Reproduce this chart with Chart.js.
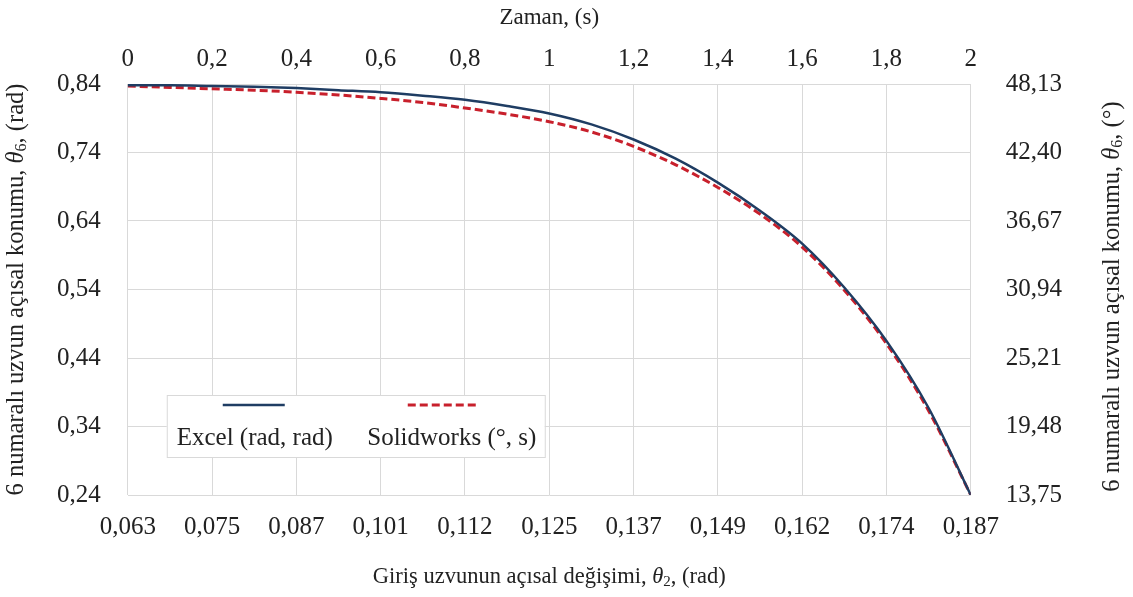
<!DOCTYPE html>
<html>
<head>
<meta charset="utf-8">
<script src="https://cdn.jsdelivr.net/npm/chart.js@4.4.1/dist/chart.umd.min.js"></script>
<style>
  html, body { margin: 0; padding: 0; background: #ffffff; }
  #wrap { width: 1133px; height: 597px; }
</style>
</head>
<body>
<div id="wrap"><canvas id="c" width="1133" height="597"></canvas></div>
<script>
// ---- data ----
const timeValues = [0, 0.1, 0.2, 0.3, 0.4, 0.5, 0.6, 0.7, 0.8, 0.9, 1.0,
                    1.1, 1.2, 1.3, 1.4, 1.5, 1.6, 1.7, 1.8, 1.9, 2.0];
const excelValues = [0.838, 0.838, 0.837, 0.836, 0.834, 0.831, 0.828, 0.823, 0.817, 0.808, 0.797,
                     0.781, 0.759, 0.731, 0.696, 0.655, 0.607, 0.543, 0.465, 0.367, 0.240];
const solidworksValues = [0.837, 0.835, 0.833, 0.831, 0.828, 0.824, 0.819, 0.813, 0.805, 0.796, 0.785,
                          0.770, 0.749, 0.722, 0.689, 0.650, 0.602, 0.539, 0.461, 0.363, 0.240];
const timeTicks = [0, 0.2, 0.4, 0.6, 0.8, 1.0, 1.2, 1.4, 1.6, 1.8, 2.0];
const topLabels = ['0', '0,2', '0,4', '0,6', '0,8', '1', '1,2', '1,4', '1,6', '1,8', '2'];
const bottomLabels = ['0,063', '0,075', '0,087', '0,101', '0,112', '0,125', '0,137', '0,149', '0,162', '0,174', '0,187'];
const radTicks = [0.24, 0.34, 0.44, 0.54, 0.64, 0.74, 0.84];
const radLabels = ['0,24', '0,34', '0,44', '0,54', '0,64', '0,74', '0,84'];
const degTicks = [13.75, 19.48, 25.21, 30.94, 36.67, 42.40, 48.13];
const degLabels = ['13,75', '19,48', '25,21', '30,94', '36,67', '42,40', '48,13'];
const seriesNames = ['Excel (rad, rad)', 'Solidworks (°, s)'];

// ---- style ----
const FONT = '"Liberation Serif", "Times New Roman", serif';
const TXT = '#222222';
const GRID = '#d9d9d9';
const BLUE = '#1f3d63';
const RED = '#c8202c';
const TICK_SIZE = 25;

function fixedTicks(values) {
  return function (scale) { scale.ticks = values.map(v => ({ value: v })); };
}

function drawRich(ctx, parts, cx, cy, rot) {
  ctx.save();
  ctx.translate(cx, cy);
  ctx.rotate(rot);
  ctx.textBaseline = 'middle';
  ctx.textAlign = 'left';
  ctx.fillStyle = TXT;
  let total = 0;
  const widths = parts.map(p => { ctx.font = p.f; const w = ctx.measureText(p.t).width; total += w; return w; });
  let x = -total / 2;
  parts.forEach((p, i) => { ctx.font = p.f; ctx.fillText(p.t, x, p.dy || 0); x += widths[i]; });
  ctx.restore();
}

const titlePlugin = {
  id: 'titles',
  afterDraw(chart) {
    const ctx = chart.ctx;
    const a = chart.chartArea;
    const cx = (a.left + a.right) / 2;
    const cy = (a.top + a.bottom) / 2;
    const n = '23px ' + FONT, sub = '15px ' + FONT;
    const vn = '24.5px ' + FONT, vit = 'italic 24.5px ' + FONT, vsub = '16px ' + FONT;
    drawRich(ctx, [{ t: 'Zaman, (s)', f: n }], cx, 18, 0);
    drawRich(ctx, [{ t: 'Giriş uzvunun açısal değişimi, ', f: '22.5px ' + FONT }, { t: 'θ', f: 'italic 22.5px ' + FONT }, { t: '2', f: sub, dy: 5 }, { t: ', (rad)', f: '22.5px ' + FONT }], cx, 577, 0);
    drawRich(ctx, [{ t: '6 numaralı uzvun açısal konumu, ', f: vn }, { t: 'θ', f: vit }, { t: '6', f: vsub, dy: 5 }, { t: ', (rad)', f: vn }], 17, cy, -Math.PI / 2);
    drawRich(ctx, [{ t: '6 numaralı uzvun açısal konumu, ', f: vn }, { t: 'θ', f: vit }, { t: '6', f: vsub, dy: 5 }, { t: ', (°)', f: vn }], 1113, cy + 7, -Math.PI / 2);
  }
};

const legendPlugin = {
  id: 'boxLegend',
  afterDatasetsDraw(chart) {
    const ctx = chart.ctx;
    const a = chart.chartArea;
    const bx = a.left + 39, by = 395, bw = 378, bh = 62;
    ctx.save();
    ctx.fillStyle = '#ffffff';
    ctx.fillRect(bx, by, bw, bh);
    ctx.strokeStyle = GRID;
    ctx.lineWidth = 1;
    ctx.strokeRect(bx + 0.5, by + 0.5, bw, bh);
    const centers = [bx + 88, bx + 285];
    const lineCenters = [bx + 87, bx + 276];
    chart.data.datasets.forEach((ds, i) => {
      ctx.beginPath();
      ctx.strokeStyle = ds.borderColor;
      ctx.lineWidth = ds.borderWidth;
      ctx.setLineDash(ds.borderDash || []);
      const half = i === 0 ? 31 : 35;
      ctx.moveTo(lineCenters[i] - half, by + 10);
      ctx.lineTo(lineCenters[i] + half, by + 10);
      ctx.stroke();
      ctx.setLineDash([]);
      ctx.fillStyle = TXT;
      ctx.font = '25px ' + FONT;
      ctx.textAlign = 'center';
      ctx.textBaseline = 'middle';
      ctx.fillText(ds.label, centers[i], by + 43);
    });
    ctx.restore();
  }
};

new Chart(document.getElementById('c'), {
  type: 'line',
  data: {
    datasets: [
      {
        label: seriesNames[0],
        data: timeValues.map((t, i) => ({ x: t, y: excelValues[i] })),
        borderColor: BLUE, borderWidth: 2.5, pointRadius: 0,
        cubicInterpolationMode: 'monotone', xAxisID: 'x', yAxisID: 'y'
      },
      {
        label: seriesNames[1],
        data: timeValues.map((t, i) => ({ x: t, y: solidworksValues[i] })),
        borderColor: RED, borderWidth: 3, borderDash: [8, 4], pointRadius: 0,
        cubicInterpolationMode: 'monotone', xAxisID: 'x', yAxisID: 'y'
      }
    ]
  },
  options: {
    responsive: false,
    animation: false,
    layout: { padding: { left: 30, right: 36, top: 34, bottom: 38 } },
    plugins: { legend: { display: false }, tooltip: { enabled: false } },
    scales: {
      x: {
        type: 'linear', position: 'bottom', min: 0, max: 2,
        afterBuildTicks: fixedTicks(timeTicks),
        grid: { color: GRID, lineWidth: 1, drawTicks: false },
        border: { display: false },
        ticks: { color: TXT, font: { family: FONT, size: TICK_SIZE }, padding: 17, maxRotation: 0,
                 callback: (v, i) => bottomLabels[i] }
      },
      x2: {
        type: 'linear', position: 'top', min: 0, max: 2,
        afterBuildTicks: fixedTicks(timeTicks),
        grid: { display: false, drawTicks: false },
        border: { display: false },
        ticks: { color: TXT, font: { family: FONT, size: TICK_SIZE }, padding: 10, maxRotation: 0,
                 callback: (v, i) => topLabels[i] }
      },
      y: {
        type: 'linear', position: 'left', min: 0.24, max: 0.84,
        afterBuildTicks: fixedTicks(radTicks),
        grid: { color: GRID, lineWidth: 1, drawTicks: false },
        border: { display: false },
        ticks: { color: TXT, font: { family: FONT, size: TICK_SIZE }, padding: 27,
                 callback: (v, i) => radLabels[i] }
      },
      y2: {
        type: 'linear', position: 'right', min: 13.75, max: 48.13,
        afterBuildTicks: fixedTicks(degTicks),
        grid: { display: false, drawTicks: false },
        border: { display: false },
        ticks: { color: TXT, font: { family: FONT, size: TICK_SIZE }, padding: 35,
                 callback: (v, i) => degLabels[i] }
      }
    }
  },
  plugins: [legendPlugin, titlePlugin]
});
</script>
</body>
</html>
